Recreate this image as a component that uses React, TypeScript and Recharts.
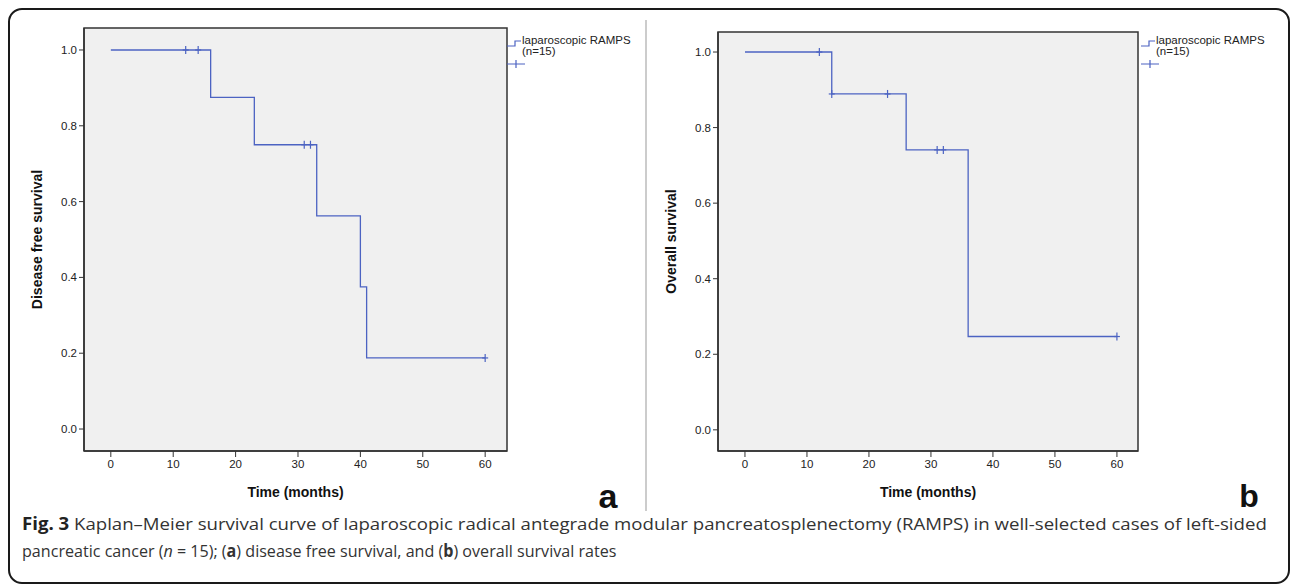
import React, { useLayoutEffect, useRef, useState } from 'react';
import { ComposedChart, Line, Scatter, XAxis, YAxis, ReferenceArea, Legend } from 'recharts';

// time in months, survival probability
const dfsTimes = [0, 16, 23, 33, 40, 41, 60];
const dfsSurvival = [1, 0.875, 0.75, 0.5625, 0.375, 0.1875, 0.1875];
const dfsCensorTimes = [12, 14, 31, 32, 60];
const dfsCensorSurvival = [1, 1, 0.75, 0.75, 0.1875];

const osTimes = [0, 14, 26, 36, 60];
const osSurvival = [1, 0.889, 0.741, 0.247, 0.247];
const osCensorTimes = [12, 14, 23, 31, 32, 60];
const osCensorSurvival = [1, 0.889, 0.889, 0.741, 0.741, 0.247];

const xTicks = [0, 10, 20, 30, 40, 50, 60];
const yTicks = [0, 0.2, 0.4, 0.6, 0.8, 1.0];
const seriesName = 'laparoscopic RAMPS';
const seriesN = '(n=15)';

const BLUE = '#4c63c2';
const AXIS = '#333';
const FONT = "'Liberation Sans', Arial, sans-serif";
const CAPTION_FONT = "'Open Sans', sans-serif";

const zip = (ts: number[], ss: number[]) => ts.map((t, i) => ({ t, s: ss[i] }));

function CensorMark(props: any) {
  const { cx, cy } = props;
  if (cx == null || cy == null) return null;
  return (
    <g stroke={BLUE} strokeWidth={1.2}>
      <line x1={cx - 3} x2={cx + 3} y1={cy} y2={cy} />
      <line x1={cx} x2={cx} y1={cy - 4} y2={cy + 4} />
    </g>
  );
}

function KmLegend() {
  return (
    <svg width={140} height={50} style={{ overflow: 'visible' }}>
      <path d="M1 24 H9 V19 H15" stroke={BLUE} strokeWidth={1.2} fill="none" />
      <text x={16} y={22} fontSize={11.5} fontFamily={FONT} fill="#222">{seriesName}</text>
      <text x={16} y={33} fontSize={11.5} fontFamily={FONT} fill="#222">{seriesN}</text>
      <path d="M1 42 H19 M10 38 V46" stroke={BLUE} strokeWidth={1.2} fill="none" />
    </svg>
  );
}

type PanelProps = {
  left: number;
  top: number;
  marginTop: number;
  yAxisWidth: number;
  plotWidth: number;
  plotHeight: number;
  xDomain: [number, number];
  yDomain: [number, number];
  yLabel: string;
  steps: { t: number; s: number }[];
  censored: { t: number; s: number }[];
  legendLeft: number;
};

function KmPanel(p: PanelProps) {
  const xAxisHeight = 57;
  const width = 640;
  const height = p.marginTop + p.plotHeight + xAxisHeight;
  const tick = { fill: '#222', fontSize: 11.5, fontFamily: FONT };
  return (
    <div style={{ position: 'absolute', left: p.left, top: p.top }}>
      <ComposedChart
        width={width}
        height={height}
        margin={{ top: p.marginTop, left: 0, bottom: 0, right: width - p.yAxisWidth - p.plotWidth }}
      >
        <XAxis
          type="number"
          dataKey="t"
          domain={p.xDomain}
          ticks={xTicks}
          allowDataOverflow
          height={xAxisHeight}
          tick={tick}
          tickSize={6}
          tickMargin={3}
          axisLine={{ stroke: AXIS, strokeWidth: 1.5 }}
          tickLine={{ stroke: AXIS }}
          label={{
            content: (lp: any) => {
              const vb = lp.viewBox;
              return (
                <text x={vb.x + vb.width / 2} y={vb.y + 41} textAnchor="middle" dominantBaseline="central"
                  fontSize={14} fontWeight="bold" fontFamily={FONT} fill="#111">Time (months)</text>
              );
            },
          }}
        />
        <YAxis
          type="number"
          dataKey="s"
          domain={p.yDomain}
          ticks={yTicks}
          allowDataOverflow
          width={p.yAxisWidth}
          tick={tick}
          tickSize={5}
          tickMargin={2}
          tickFormatter={(v: number) => v.toFixed(1)}
          axisLine={{ stroke: AXIS, strokeWidth: 1.5 }}
          tickLine={{ stroke: AXIS }}
          label={{
            content: (lp: any) => {
              const vb = lp.viewBox;
              const cx = vb.x + vb.width - 47;
              const cy = vb.y + vb.height / 2;
              return (
                <text x={cx} y={cy} transform={`rotate(-90 ${cx} ${cy})`} textAnchor="middle" dominantBaseline="central"
                  fontSize={14} fontWeight="bold" fontFamily={FONT} fill="#111">{p.yLabel}</text>
              );
            },
          }}
        />
        <ReferenceArea
          x1={p.xDomain[0]}
          x2={p.xDomain[1]}
          y1={p.yDomain[0]}
          y2={p.yDomain[1]}
          fill="#f0f0f0"
          fillOpacity={1}
          stroke={AXIS}
          strokeWidth={1.5}
          ifOverflow="visible"
        />
        <Line
          data={p.steps}
          dataKey="s"
          type="stepAfter"
          stroke={BLUE}
          strokeWidth={1.3}
          dot={false}
          isAnimationActive={false}
          name={seriesName}
        />
        <Scatter data={p.censored} dataKey="s" shape={CensorMark} isAnimationActive={false} legendType="none" />
        <Legend
          layout="horizontal"
          align="center"
          verticalAlign="middle"
          wrapperStyle={{ left: p.legendLeft, top: 14, width: 140, height: 50 }}
          content={() => <KmLegend />}
        />
      </ComposedChart>
    </div>
  );
}

// caption line squeezed horizontally to the width it has in the figure
function CaptionLine({ x, y, width, children }: { x: number; y: number; width: number; children: React.ReactNode }) {
  const ref = useRef<SVGTextElement>(null);
  const [k, setK] = useState(1);
  useLayoutEffect(() => {
    if (ref.current) {
      const w = ref.current.getComputedTextLength();
      if (w > 0) setK(width / w);
    }
  }, [width]);
  return (
    <g transform={`translate(${x} ${y}) scale(${k} 1)`}>
      <text ref={ref} x={0} y={0} fontSize={17} fontFamily={CAPTION_FONT} fill="#333">{children}</text>
    </g>
  );
}

export default function App() {
  return (
    <div style={{ position: 'absolute', left: 0, top: 0, width: 1292, height: 584, overflow: 'hidden', background: '#fff' }}>
      <div
        style={{
          position: 'absolute', left: 8, top: 8, width: 1282, height: 576,
          border: '2px solid #1a1a1a', borderRadius: 14, boxSizing: 'border-box',
        }}
      />
      <KmPanel
        left={8}
        top={8}
        marginTop={20}
        yAxisWidth={76}
        plotWidth={423}
        plotHeight={423}
        xDomain={[-4.3, 63.5]}
        yDomain={[-0.058, 1.058]}
        yLabel="Disease free survival"
        steps={zip(dfsTimes, dfsSurvival)}
        censored={zip(dfsCensorTimes, dfsCensorSurvival)}
        legendLeft={498}
      />
      <KmPanel
        left={648}
        top={8}
        marginTop={24}
        yAxisWidth={70}
        plotWidth={420}
        plotHeight={419}
        xDomain={[-4.35, 63.4]}
        yDomain={[-0.056, 1.053]}
        yLabel="Overall survival"
        steps={zip(osTimes, osSurvival)}
        censored={zip(osCensorTimes, osCensorSurvival)}
        legendLeft={492}
      />
      <svg width={1292} height={584} style={{ position: 'absolute', left: 0, top: 0, pointerEvents: 'none' }}>
        <line x1={646} x2={646} y1={20} y2={511} stroke="#999" strokeWidth={1} />
        <text x={608} y={508} textAnchor="middle" fontSize={34} fontWeight="bold" fontFamily={FONT} fill="#111">a</text>
        <text x={1249} y={507} textAnchor="middle" fontSize={32} fontWeight="bold" fontFamily={FONT} fill="#111">b</text>
        <CaptionLine x={22} y={530} width={1246}>
          <tspan fontWeight="bold" fill="#222">Fig. 3</tspan>
          {' Kaplan–Meier survival curve of laparoscopic radical antegrade modular pancreatosplenectomy (RAMPS) in well-selected cases of left-sided'}
        </CaptionLine>
        <CaptionLine x={22} y={557} width={595}>
          {'pancreatic cancer ('}
          <tspan fontStyle="italic">n</tspan>
          {' = 15); ('}
          <tspan fontWeight="bold">a</tspan>
          {') disease free survival, and ('}
          <tspan fontWeight="bold">b</tspan>
          {') overall survival rates'}
        </CaptionLine>
      </svg>
    </div>
  );
}
